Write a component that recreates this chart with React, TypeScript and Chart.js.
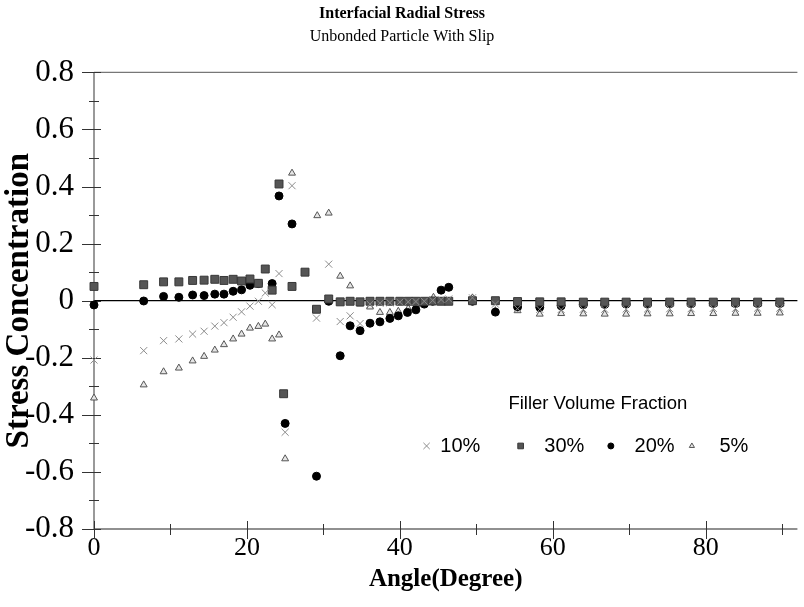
import React, { useEffect, useRef } from 'react';
import { Chart, registerables } from 'chart.js';

Chart.register(...registerables);

// ---- data (angle in degrees, stress concentration) ----
const angles10 = [0, 6.5, 9.1, 11.1, 12.9, 14.4, 15.8, 17.0, 18.2, 19.3, 20.4, 21.5, 22.4, 23.3, 24.2, 25.0, 25.9, 29.1, 30.7, 32.2, 33.5, 34.8, 36.1, 37.4, 38.7, 40.0, 41.1, 42.1, 43.2, 44.3, 45.4, 46.4, 49.5, 52.5, 55.4, 58.3, 61.1, 64.0, 66.8, 69.6, 72.4, 75.3, 78.1, 81.0, 83.9, 86.8, 89.7];
const values10 = [-0.208, -0.175, -0.140, -0.134, -0.117, -0.107, -0.089, -0.077, -0.058, -0.039, -0.019, -0.002, 0.027, -0.014, 0.095, -0.461, 0.403, -0.061, 0.128, -0.073, -0.053, -0.080, -0.012, -0.009, -0.007, -0.005, -0.004, -0.003, -0.002, 0.001, 0.004, 0.006, 0.010, -0.012, -0.028, -0.030, -0.031, -0.030, -0.030, -0.029, -0.029, -0.028, -0.028, -0.027, -0.027, -0.026, -0.026];

const angles30 = [0, 6.5, 9.1, 11.1, 12.9, 14.4, 15.8, 17.0, 18.2, 19.3, 20.4, 21.5, 22.4, 23.3, 24.2, 24.8, 25.9, 27.6, 29.1, 30.7, 32.2, 33.5, 34.8, 36.1, 37.4, 38.7, 40.0, 41.1, 42.1, 43.2, 44.3, 45.4, 46.4, 49.5, 52.5, 55.4, 58.3, 61.1, 64.0, 66.8, 69.6, 72.4, 75.3, 78.1, 81.0, 83.9, 86.8, 89.7];
const values30 = [0.050, 0.056, 0.066, 0.066, 0.071, 0.072, 0.075, 0.071, 0.075, 0.069, 0.076, 0.061, 0.111, 0.037, 0.409, -0.326, 0.050, 0.100, -0.030, 0.006, -0.004, -0.002, -0.004, -0.002, -0.002, -0.002, -0.002, -0.002, -0.002, -0.002, -0.001, -0.002, -0.002, 0.000, 0.000, -0.003, -0.004, -0.004, -0.005, -0.005, -0.005, -0.005, -0.005, -0.005, -0.005, -0.005, -0.005, -0.005];

const angles20 = [0, 6.5, 9.1, 11.1, 12.9, 14.4, 15.8, 17.0, 18.2, 19.3, 20.4, 21.5, 23.3, 24.2, 25.0, 25.9, 29.1, 30.7, 32.2, 33.5, 34.8, 36.1, 37.4, 38.7, 39.8, 41.0, 42.1, 43.2, 44.3, 45.4, 46.4, 49.5, 52.5, 55.4, 58.3, 61.1, 64.0, 66.8, 69.6, 72.4, 75.3, 78.1, 81.0, 83.9, 86.8, 89.7];
const values20 = [-0.015, -0.001, 0.015, 0.012, 0.020, 0.018, 0.023, 0.023, 0.033, 0.038, 0.054, 0.060, 0.060, 0.367, -0.430, 0.269, -0.615, -0.002, -0.193, -0.088, -0.105, -0.079, -0.074, -0.062, -0.053, -0.041, -0.032, -0.012, -0.002, 0.037, 0.047, -0.002, -0.040, -0.022, -0.023, -0.018, -0.014, -0.013, -0.012, -0.012, -0.011, -0.011, -0.010, -0.010, -0.010, -0.010];

const angles5 = [0, 6.5, 9.1, 11.1, 12.9, 14.4, 15.8, 17.0, 18.2, 19.3, 20.4, 21.5, 22.4, 23.3, 24.2, 25.0, 25.9, 29.2, 30.7, 32.2, 33.5, 34.8, 36.1, 37.4, 38.7, 39.8, 41.1, 42.2, 44.4, 49.5, 52.5, 55.4, 58.3, 61.1, 64.0, 66.8, 69.6, 72.4, 75.3, 78.1, 81.0, 83.9, 86.8, 89.7];
const values5 = [-0.341, -0.295, -0.249, -0.236, -0.211, -0.195, -0.173, -0.154, -0.134, -0.117, -0.096, -0.090, -0.082, -0.134, -0.120, -0.554, 0.447, 0.298, 0.307, 0.086, 0.052, -0.012, -0.022, -0.041, -0.041, -0.037, -0.027, -0.014, 0.012, 0.010, -0.035, -0.035, -0.047, -0.045, -0.046, -0.047, -0.047, -0.046, -0.046, -0.045, -0.045, -0.044, -0.044, -0.043];

const seriesLabels = ['10%', '30%', '20%', '5%'];
const xMajorTicks = [0, 20, 40, 60, 80];
const xMinorTicks = [10, 30, 50, 70, 90];
const yMajorTicks = [-0.8, -0.6, -0.4, -0.2, 0, 0.2, 0.4, 0.6, 0.8];
const yMinorTicks = [-0.7, -0.5, -0.3, -0.1, 0.1, 0.3, 0.5, 0.7];

const zip = (xs: number[], ys: number[]) => xs.map((x, i) => ({ x, y: ys[i] }));

const styles = [
  { pointStyle: 'crossRot', radius: 5, bg: '#9a9a9a', border: '#8c8c8c', bw: 1, legR: 4.5 },
  { pointStyle: 'rect', radius: 5.6, bg: '#555555', border: '#383838', bw: 1, legR: 4 },
  { pointStyle: 'circle', radius: 4, bg: '#000000', border: '#000000', bw: 1, legR: 3 },
  { pointStyle: 'triangle', radius: 4, bg: '#e6e6e6', border: '#555555', bw: 1, legR: 3 },
];

function drawMarker(ctx: CanvasRenderingContext2D, style: string, x: number, y: number, r: number, fill: string, stroke: string, lw: number) {
  ctx.save();
  ctx.fillStyle = fill;
  ctx.strokeStyle = stroke;
  ctx.lineWidth = lw;
  ctx.beginPath();
  if (style === 'crossRot') {
    const d = r * Math.SQRT1_2;
    ctx.moveTo(x - d, y - d); ctx.lineTo(x + d, y + d);
    ctx.moveTo(x - d, y + d); ctx.lineTo(x + d, y - d);
    ctx.stroke();
  } else if (style === 'rect') {
    const s = r * Math.SQRT1_2;
    ctx.rect(x - s, y - s, 2 * s, 2 * s);
    ctx.fill(); ctx.stroke();
  } else if (style === 'circle') {
    ctx.arc(x, y, r, 0, Math.PI * 2);
    ctx.fill(); ctx.stroke();
  } else {
    const h = r * 1.5;
    const w = r * Math.sqrt(3) / 2;
    ctx.moveTo(x, y - r);
    ctx.lineTo(x + w, y + h - r);
    ctx.lineTo(x - w, y + h - r);
    ctx.closePath();
    ctx.fill(); ctx.stroke();
  }
  ctx.restore();
}

const axesPlugin = {
  id: 'axesDecor',
  beforeDatasetsDraw(chart: any) {
    const { ctx, scales } = chart;
    const xs = scales.x, ys = scales.y;
    const area = chart.chartArea;
    const x0 = xs.getPixelForValue(0);
    const yTop = ys.getPixelForValue(0.8);
    const yBot = ys.getPixelForValue(-0.8);
    const yZero = ys.getPixelForValue(0);
    ctx.save();
    // top border
    ctx.strokeStyle = '#777';
    ctx.lineWidth = 1.2;
    ctx.beginPath(); ctx.moveTo(x0, yTop); ctx.lineTo(area.right, yTop); ctx.stroke();
    // bottom axis
    ctx.strokeStyle = '#222';
    ctx.lineWidth = 1.2;
    ctx.beginPath(); ctx.moveTo(x0, yBot); ctx.lineTo(area.right, yBot); ctx.stroke();
    // zero line
    ctx.strokeStyle = '#000';
    ctx.lineWidth = 1.2;
    ctx.beginPath(); ctx.moveTo(x0, yZero); ctx.lineTo(area.right, yZero); ctx.stroke();
    // left axis
    ctx.strokeStyle = '#555';
    ctx.lineWidth = 1.2;
    ctx.beginPath(); ctx.moveTo(x0, yTop); ctx.lineTo(x0, yBot); ctx.stroke();
    // y ticks
    ctx.strokeStyle = '#333';
    ctx.lineWidth = 1;
    yMajorTicks.forEach((v) => {
      const p = Math.round(ys.getPixelForValue(v)) + 0.5;
      ctx.beginPath(); ctx.moveTo(x0 - 12, p); ctx.lineTo(x0 + 7, p); ctx.stroke();
    });
    yMinorTicks.forEach((v) => {
      const p = Math.round(ys.getPixelForValue(v)) + 0.5;
      ctx.beginPath(); ctx.moveTo(x0 - 5, p); ctx.lineTo(x0 + 5, p); ctx.stroke();
    });
    // x ticks
    xMajorTicks.forEach((v) => {
      const p = Math.round(xs.getPixelForValue(v)) + 0.5;
      ctx.beginPath(); ctx.moveTo(p, yBot - 8); ctx.lineTo(p, yBot + 10); ctx.stroke();
    });
    xMinorTicks.forEach((v) => {
      const p = Math.round(xs.getPixelForValue(v)) + 0.5;
      if (p > area.right) return;
      ctx.beginPath(); ctx.moveTo(p, yBot - 5); ctx.lineTo(p, yBot + 6); ctx.stroke();
    });
    ctx.restore();
  },
};

const legendPlugin = {
  id: 'insideLegend',
  afterDraw(chart: any) {
    const { ctx } = chart;
    const xs = chart.scales.x, ys = chart.scales.y;
    // anchor legend relative to the plot scales
    const titleX = xs.getPixelForValue(65.9);
    const titleY = ys.getPixelForValue(-0.36);
    const rowY = ys.getPixelForValue(-0.509);
    ctx.save();
    ctx.fillStyle = '#000';
    ctx.font = '18.5px "Liberation Sans", Arial, sans-serif';
    ctx.textAlign = 'center';
    ctx.textBaseline = 'middle';
    ctx.fillText('Filler Volume Fraction', titleX, titleY);
    const markerAt = [43.5, 55.8, 67.6, 78.2];
    const textAt = [45.3, 58.9, 70.7, 81.8];
    ctx.font = '20px "Liberation Sans", Arial, sans-serif';
    ctx.textAlign = 'left';
    seriesLabels.forEach((lab, i) => {
      const st = styles[i];
      drawMarker(ctx, st.pointStyle, xs.getPixelForValue(markerAt[i]), rowY, st.legR, st.bg, st.border, 1);
      ctx.fillStyle = '#000';
      ctx.fillText(lab, xs.getPixelForValue(textAt[i]), rowY + 1);
    });
    ctx.restore();
  },
};

export default function App() {
  const ref = useRef<HTMLCanvasElement | null>(null);
  useEffect(() => {
    if (!ref.current) return;
    const datasets = [
      zip(angles10, values10),
      zip(angles30, values30),
      zip(angles20, values20),
      zip(angles5, values5),
    ].map((data, i) => ({
      label: seriesLabels[i],
      data,
      showLine: false,
      clip: false,
      pointStyle: styles[i].pointStyle,
      pointRadius: styles[i].radius,
      pointBackgroundColor: styles[i].bg,
      pointBorderColor: styles[i].border,
      pointBorderWidth: styles[i].bw,
      order: i,
    }));
    const serif = '"Liberation Serif", "Times New Roman", serif';
    const chart = new Chart(ref.current, {
      type: 'scatter',
      data: { datasets: datasets as any },
      options: {
        responsive: false,
        animation: false,
        devicePixelRatio: 1,
        layout: { padding: { left: 0, right: 0, top: 0, bottom: 12 } },
        plugins: {
          legend: { display: false },
          tooltip: { enabled: false },
          title: {
            display: true,
            text: 'Interfacial Radial Stress',
            color: '#000',
            font: { family: serif, size: 16, weight: 'bold' },
            padding: { top: 4, bottom: 4 },
          },
          subtitle: {
            display: true,
            text: 'Unbonded Particle With Slip',
            color: '#000',
            font: { family: serif, size: 16, weight: 'normal' },
            padding: { top: 0, bottom: 26 },
          },
        },
        scales: {
          x: {
            type: 'linear',
            min: 0,
            max: 92,
            grid: { display: false, drawTicks: false },
            border: { display: false },
            afterBuildTicks: (scale: any) => { scale.ticks = xMajorTicks.map((v) => ({ value: v })); },
            afterFit: (scale: any) => { scale.height = 66; },
            ticks: {
              color: '#000',
              padding: 4,
              maxRotation: 0,
              font: { family: serif, size: 26 },
              callback: (v: any) => String(v),
            },
            title: {
              display: true,
              text: 'Angle(Degree)',
              color: '#000',
              padding: 0,
              font: { family: serif, size: 25, weight: 'bold' },
            },
          },
          y: {
            type: 'linear',
            min: -0.8,
            max: 0.8,
            grid: { display: false, drawTicks: false },
            border: { display: false },
            afterBuildTicks: (scale: any) => { scale.ticks = yMajorTicks.map((v) => ({ value: v })); },
            afterFit: (scale: any) => { scale.width = 94; },
            ticks: {
              color: '#000',
              padding: 20,
              font: { family: serif, size: 31 },
              callback: (v: any) => (Math.abs(v) < 1e-9 ? '0' : Number(v).toFixed(1)),
            },
            title: {
              display: true,
              text: 'Stress Concentration',
              color: '#000',
              padding: 0,
              font: { family: serif, size: 33, weight: 'bold' },
            },
          },
        },
      },
      plugins: [axesPlugin, legendPlugin],
    } as any);
    return () => chart.destroy();
  }, []);
  return (
    <div style={{ position: 'absolute', left: 0, top: 0, width: 804, height: 607, background: '#fff' }}>
      <canvas ref={ref} width={804} height={607} style={{ display: 'block', width: 804, height: 607 }} />
    </div>
  );
}
